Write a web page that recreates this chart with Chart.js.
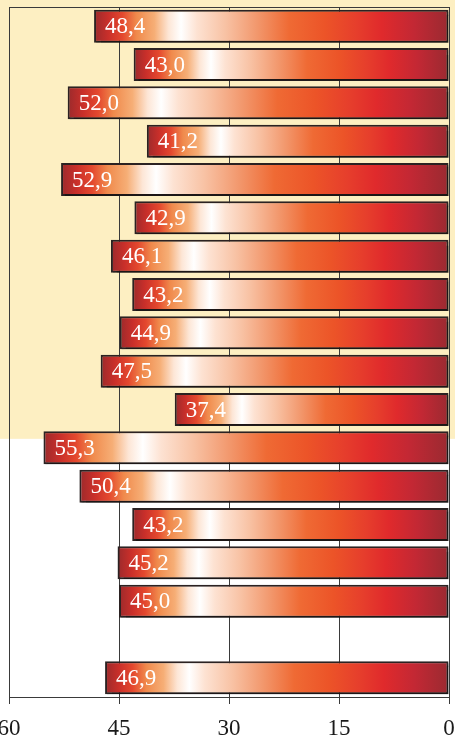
<!DOCTYPE html>
<html><head><meta charset="utf-8">
<script src="https://cdn.jsdelivr.net/npm/chart.js@4/dist/chart.umd.min.js"></script>
<style>html,body{margin:0;padding:0;background:#fff;}#wrap{width:455px;height:740px;}</style>
</head><body><div id="wrap"><canvas id="c" width="455" height="740"></canvas></div>
<script>
const categories = ['1','2','3','4','5','6','7','8','9','10','11','12','13','14','15','16','17','18'];
const values = [48.4, 43.0, 52.0, 41.2, 52.9, 42.9, 46.1, 43.2, 44.9, 47.5, 37.4, 55.3, 50.4, 43.2, 45.2, 45.0, null, 46.9];
const tickValues = [60, 45, 30, 15, 0];
const highlightedCount = 11;

const stops = [
  [0.00,'#9b2a2c'],[0.04,'#c92f2a'],[0.08,'#e4482e'],[0.12,'#f08a4c'],[0.17,'#f6ae76'],
  [0.21,'#fde6d6'],[0.245,'#ffffff'],[0.29,'#fde2d2'],[0.37,'#f8c2a4'],[0.46,'#f2976c'],
  [0.55,'#ef6a34'],[0.65,'#ec5428'],[0.74,'#e63e2c'],[0.81,'#e02a2c'],[0.90,'#c32834'],[1.00,'#9a2a31']
];

function barGradient(ctx){
  const chart = ctx.chart;
  if(!chart.chartArea || !chart.scales.x) return '#e04030';
  const v = values[ctx.dataIndex];
  if(v == null) return 'transparent';
  const xs = chart.scales.x;
  const a = xs.getPixelForValue(v), b = xs.getPixelForValue(0);
  const g = chart.ctx.createLinearGradient(a,0,b,0);
  stops.forEach(s=>g.addColorStop(s[0],s[1]));
  return g;
}

const bgPlugin = {
  id:'bg',
  beforeDraw(chart){
    const c = chart.ctx, ys = chart.scales.y;
    const step = ys.getPixelForValue(1) - ys.getPixelForValue(0);
    const yEnd = ys.getPixelForValue(highlightedCount) - 0.235*step;
    c.save();
    c.fillStyle = '#ffffff'; c.fillRect(0,0,chart.width,chart.height);
    c.fillStyle = '#fdefc2'; c.fillRect(0,0,chart.width,yEnd);
    c.restore();
  },
  beforeDatasetsDraw(chart){
    const c = chart.ctx, a = chart.chartArea;
    c.save();
    c.strokeStyle = '#3a3a3a'; c.lineWidth = 1;
    c.beginPath(); c.moveTo(a.left, a.top+0.5); c.lineTo(a.right, a.top+0.5); c.stroke();
    c.shadowColor = 'rgba(0,0,0,0.35)'; c.shadowOffsetX = 2; c.shadowOffsetY = 2; c.shadowBlur = 1;
  },
  afterDatasetsDraw(chart){
    const c = chart.ctx;
    c.restore();
    const meta = chart.getDatasetMeta(0);
    c.save();
    c.fillStyle = '#ffffff';
    c.font = '23px "Liberation Serif", "Times New Roman", serif';
    c.textAlign = 'left'; c.textBaseline = 'middle';
    meta.data.forEach((el,i)=>{
      const v = values[i];
      if(v == null) return;
      c.fillText(v.toFixed(1).replace('.',','), el.x + 11, el.y + 1);
    });
    c.restore();
  }
};

new Chart(document.getElementById('c'), {
  type:'bar',
  data:{ labels: categories, datasets:[{ data: values, backgroundColor: barGradient, borderColor:'#2b2222', borderWidth:2, borderSkipped:false, barPercentage:0.86, categoryPercentage:1 }]},
  options:{
    indexAxis:'y', responsive:false, animation:false, devicePixelRatio:1,
    layout:{ padding:{ left:9, right:6, top:7, bottom:0 } },
    plugins:{ legend:{display:false}, tooltip:{enabled:false} },
    scales:{
      x:{ min:0, max:60, reverse:true,
          afterBuildTicks(s){ s.ticks = tickValues.map(v=>({value:v})); },
          afterFit(s){ s.paddingLeft = 0; s.paddingRight = 0; s.height = 43; },
          ticks:{ color:'#1a1a1a', font:{ family:'"Liberation Serif", serif', size:23 }, padding:11, maxRotation:0, autoSkip:false },
          grid:{ color:'#3a3a3a', lineWidth:1, tickLength:7, drawOnChartArea:true },
          border:{ color:'#3a3a3a', width:1 } },
      y:{ ticks:{ display:false }, grid:{ display:false, drawTicks:false },
          afterFit(s){ s.width = 0; s.paddingTop = 0; s.paddingBottom = 0; },
          border:{ display:true, color:'#3a3a3a', width:1 } }
    }
  },
  plugins:[bgPlugin]
});
</script></body></html>
